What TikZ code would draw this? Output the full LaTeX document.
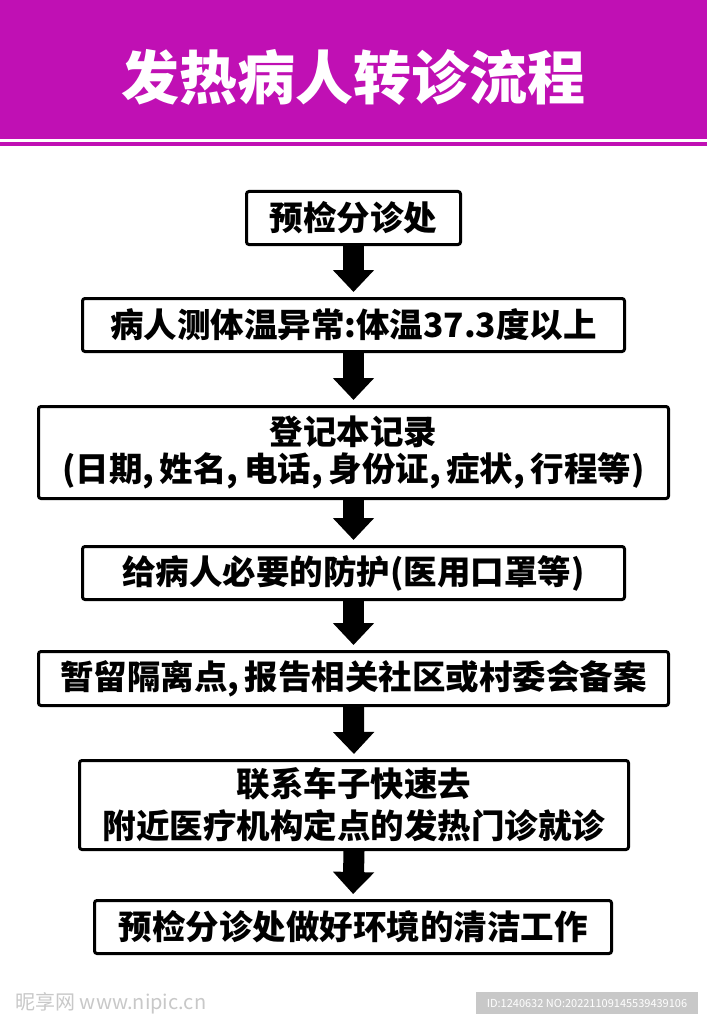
\documentclass[tikz,border=0pt]{standalone}
\usepackage{fontspec}
\newfontfamily\cjk{Noto Sans CJK SC}[BoldFont={* Bold}]
\newfontfamily\cjkh{Noto Sans CJK SC}[UprightFont={* Black}]
\usetikzlibrary{arrows.meta}
\definecolor{hdr}{RGB}{192,16,180}
\definecolor{wmgray}{RGB}{200,200,200}
\tikzset{
  x=1pt, y=-1pt,
  flowbox/.style={draw=black, line width=3pt, rounded corners=2.5pt, fill=white,
    inner sep=0pt, align=center, font=\cjkh\fontsize{33.5}{38}\selectfont},
  blockarrow/.style={line width=21pt, -{Triangle[width=40pt,length=22pt]}, shorten >=5pt}
}
\begin{document}
\begin{tikzpicture}
\useasboundingbox (0,0) rectangle (707,1024);
\fill[white] (0,0) rectangle (707,1024);
% header
\fill[hdr] (0,0) rectangle (707,139);
\fill[hdr] (0,142) rectangle (707,146);
\node[font=\cjkh\fontsize{58}{64}\selectfont, text=white] (title) at (353.5,77) {发热病人转诊流程};
% boxes
\node[flowbox, minimum width=214, minimum height=53] (b1) at (353.5,218) {预检分诊处};
\node[flowbox, minimum width=542, minimum height=53] (b2) at (353.5,325) {病人测体温异常:体温37.3度以上};
\node[flowbox, minimum width=630, minimum height=92, font=\cjkh\fontsize{33.5}{37}\selectfont] (b3) at (353.5,452.5) {登记本记录\\(日期,\,姓名,\,电话,\,身份证,\,症状,\,行程等)};
\node[flowbox, minimum width=542, minimum height=53] (b4) at (353.5,573) {给病人必要的防护(医用口罩等)};
\node[flowbox, minimum width=630, minimum height=54] (b5) at (353.5,678.5) {暂留隔离点,\,报告相关社区或村委会备案};
\node[flowbox, minimum width=549, minimum height=89, font=\cjkh\fontsize{33.5}{42}\selectfont] (b6) at (354,805) {联系车子快速去\\附近医疗机构定点的发热门诊就诊};
\node[flowbox, minimum width=517, minimum height=53] (b7) at (353,927) {预检分诊处做好环境的清洁工作};
% arrows
\draw[blockarrow] (b1.south) -- (b2.north);
\draw[blockarrow] (b2.south) -- (b3.north);
\draw[blockarrow] (b3.south) -- (b4.north);
\draw[blockarrow] (b4.south) -- (b5.north);
\draw[blockarrow] (b5.south) -- (b6.north);
\draw[blockarrow] (b6.south) -- (b7.north);
% watermark
\node[font=\cjk\fontsize{20}{22}\selectfont, text=wmgray, anchor=west] (wm1) at (12,1003) {昵享网 \itshape www.nipic.cn};
\node[fill=wmgray, text=white, font=\cjk\fontsize{11}{13}\selectfont, minimum width=222, minimum height=22, inner sep=0pt] (wm2) at (587,1003) {ID:1240632 NO:20221109145539439106};
\end{tikzpicture}
\end{document}
